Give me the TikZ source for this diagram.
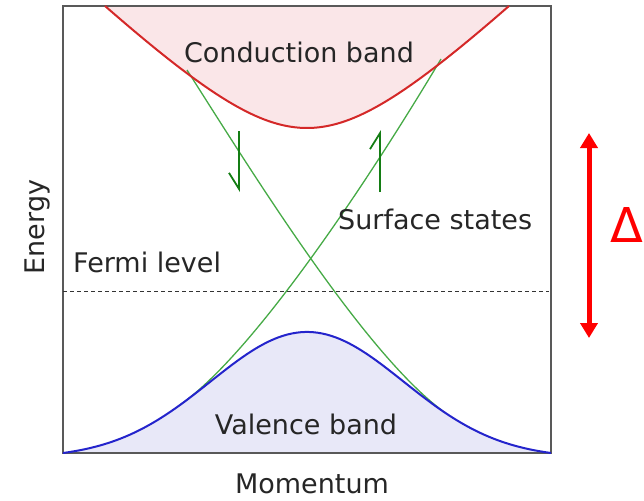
\documentclass[tikz,border=0pt]{standalone}
\usepackage{fontspec}
\setmainfont{DejaVu Sans}
\usetikzlibrary{arrows.meta}
\definecolor{cbred}{RGB}{212,40,40}
\definecolor{cbfill}{RGB}{250,230,232}
\definecolor{vbblue}{RGB}{36,36,204}
\definecolor{vbfill}{RGB}{232,232,248}
\definecolor{ssgreen}{RGB}{70,170,70}
\definecolor{spingreen}{RGB}{20,125,20}
\tikzset{
  declare function={cb(\x)=128-97.3*(sqrt(1+pow((\x-307)/100,2))-1);
                    vb(\x)=453-126.2*(exp(-0.5*pow((\x-307)/96.6,2))-0.041);},
  lbl/.style={font=\fontsize{27}{31}\selectfont, text=black!85, inner sep=0pt},
  frame/.style={draw=black!65, line width=1.6pt},
  bandline/.style={line width=2pt, line join=round},
  surf/.style={draw=ssgreen, line width=1.3pt},
  spin/.style={draw=spingreen, line width=1.8pt},
  fermi/.style={draw=black!80, line width=1pt, dash pattern=on 4pt off 3pt},
  gaparr/.style={draw=red, line width=5pt,
                 {Triangle[length=15pt,width=17pt]}-{Triangle[length=15pt,width=17pt]}},
}
\begin{document}
\begin{tikzpicture}[x=1pt, y=-1pt]
\useasboundingbox (0,0) rectangle (644,500);
% ---- band fills ----
\fill[cbfill] plot[domain=105:509, samples=90] (\x,{cb(\x)}) -- cycle;
\fill[vbfill] (63,453) -- plot[domain=63:551, samples=110] (\x,{vb(\x)}) -- (551,453) -- cycle;
% ---- frame and Fermi level ----
\draw[frame] (63,6) rectangle (551,453);
\draw[fermi] (63,291) -- (549,291);
% ---- surface states ----
\draw[surf] (187,70) .. controls (252,172) and (365,355) .. (445,{vb(445)});
\draw[surf] (441,59) .. controls (370,178) and (255,352) .. (180,{vb(180)});
% ---- spins ----
\coordinate (dntail) at (239,131);
\coordinate (dnhead) at (239,192);
\coordinate (uptail) at (380,192);
\coordinate (uphead) at (380,130);
\draw[spin, -{Straight Barb[right, length=16pt, width=20pt]}] (dntail) -- (dnhead);
\draw[spin, -{Straight Barb[left, length=16pt, width=20pt]}] (uptail) -- (uphead);
% ---- band edges ----
\draw[bandline, cbred] plot[domain=105:509, samples=90] (\x,{cb(\x)});
\draw[bandline, vbblue] plot[domain=63:551, samples=110] (\x,{vb(\x)});
% ---- labels ----
\node[lbl, anchor=base] (cblbl) at (299,63) {Conduction band};
\node[lbl, anchor=base] (vblbl) at (306,434) {Valence band};
\node[lbl, anchor=base west] (sslbl) at (338,229) {Surface states};
\node[lbl, anchor=base west] (eflbl) at (73,272) {Fermi level};
\node[lbl, anchor=base] (klbl) at (312,493) {Momentum};
\node[lbl, rotate=90, anchor=base] (elbl) at (44,227) {Energy};
% ---- gap ----
\coordinate (gaptop) at (589,133);
\coordinate (gapbot) at (589,338);
\draw[gaparr] (gaptop) -- (gapbot);
\node[font=\fontsize{48}{50}\selectfont, text=red, inner sep=0pt, anchor=base west] (gaplbl) at (610,242) {Δ};
\end{tikzpicture}
\end{document}
